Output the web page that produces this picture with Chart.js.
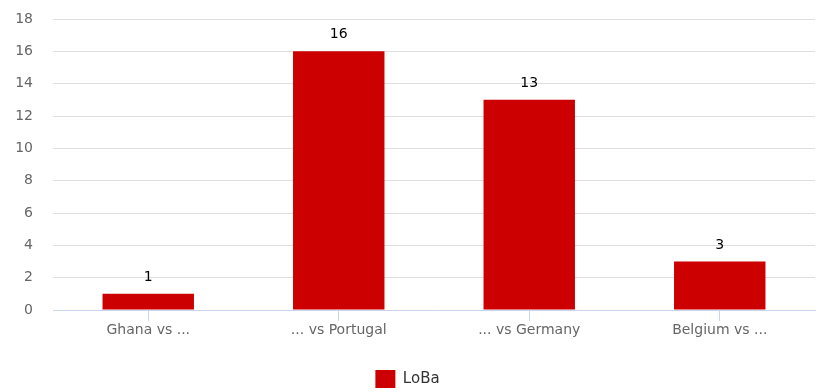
<!DOCTYPE html>
<html>
<head>
<meta charset="utf-8">
<script src="https://cdn.jsdelivr.net/npm/chart.js@4/dist/chart.umd.min.js"></script>
<style>
  html, body { margin: 0; padding: 0; background: #fff; }
  #wrap { width: 825px; height: 392px; }
</style>
</head>
<body>
<div id="wrap"><canvas id="c" width="825" height="392"></canvas></div>
<script>
const categories = ['Ghana vs ...', '... vs Portugal', '... vs Germany', 'Belgium vs ...'];
const seriesName = 'LoBa';
const seriesValues = [1, 16, 13, 3];
const yTicks = [0, 2, 4, 6, 8, 10, 12, 14, 16, 18];

const FONT = '"DejaVu Sans", Verdana, sans-serif';

// Writes each bar's value just above its top edge
const valueLabels = {
  id: 'valueLabels',
  afterDatasetsDraw(chart) {
    const ctx = chart.ctx;
    ctx.save();
    ctx.font = '14px ' + FONT;
    ctx.fillStyle = '#000';
    ctx.textAlign = 'center';
    ctx.textBaseline = 'alphabetic';
    chart.getDatasetMeta(0).data.forEach((bar, i) => {
      ctx.fillText(String(seriesValues[i]), bar.x, bar.y - 13);
    });
    ctx.restore();
  }
};

new Chart(document.getElementById('c'), {
  type: 'bar',
  data: {
    labels: categories,
    datasets: [{
      label: seriesName,
      data: seriesValues,
      backgroundColor: '#cc0000',
      borderWidth: 0,
      categoryPercentage: 0.8,
      barPercentage: 0.6
    }]
  },
  options: {
    responsive: false,
    animation: false,
    devicePixelRatio: 1,
    layout: { padding: { top: 19, right: 10, left: 0, bottom: 0 } },
    scales: {
      x: {
        grid: {
          display: true,
          drawOnChartArea: false,
          drawTicks: true,
          tickLength: 11,
          offset: false,
          color: '#ccd6eb'
        },
        border: { display: true, color: '#ccd6eb', width: 1, z: 1 },
        ticks: {
          color: '#666',
          font: { family: FONT, size: 14 },
          padding: 1,
          maxRotation: 0,
          autoSkip: false
        },
        afterFit(scale) { scale.height = 55; }
      },
      y: {
        min: 0,
        max: 18,
        afterBuildTicks(scale) { scale.ticks = yTicks.map(v => ({ value: v })); },
        grid: {
          color: (c) => (c.tick && c.tick.value === 0) ? 'rgba(0,0,0,0)' : '#dedede',
          drawTicks: false
        },
        border: { display: false },
        ticks: {
          color: '#666',
          font: { family: FONT, size: 14 },
          padding: 20
        },
        afterFit(scale) {
          scale.width = 53;
          scale.paddingTop = 0;
          scale.paddingBottom = 0;
        }
      }
    },
    plugins: {
      legend: {
        position: 'bottom',
        maxHeight: 27,
        labels: {
          boxWidth: 20,
          boxHeight: 18,
          color: '#333',
          font: { family: FONT, size: 15, lineHeight: 1 },
          padding: 5
        }
      },
      tooltip: { enabled: false }
    }
  },
  plugins: [valueLabels]
});
</script>
</body>
</html>
